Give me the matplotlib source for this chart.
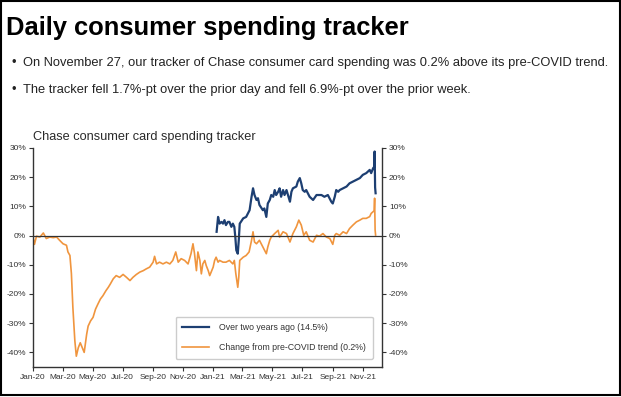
import pandas as pd
import matplotlib
matplotlib.use('Agg')
from matplotlib import pyplot as plt
import matplotlib.dates as mdates
from matplotlib.patches import Rectangle
from matplotlib.ticker import FuncFormatter

# change from pre-COVID trend, %
trend_dates = ['2020-01-01', '2020-01-04', '2020-01-08', '2020-01-15', '2020-01-22', '2020-01-28',
               '2020-02-04', '2020-02-11', '2020-02-18', '2020-02-24', '2020-03-02', '2020-03-09',
               '2020-03-12', '2020-03-16', '2020-03-19', '2020-03-22', '2020-03-26', '2020-03-29',
               '2020-04-02', '2020-04-06', '2020-04-10', '2020-04-14', '2020-04-19', '2020-04-22',
               '2020-04-27', '2020-05-02', '2020-05-07', '2020-05-12', '2020-05-17', '2020-05-22',
               '2020-05-28', '2020-06-02', '2020-06-06', '2020-06-12', '2020-06-18', '2020-06-25',
               '2020-07-02', '2020-07-09', '2020-07-16', '2020-07-22', '2020-07-29', '2020-08-05',
               '2020-08-12', '2020-08-18', '2020-08-25', '2020-09-01', '2020-09-04', '2020-09-08',
               '2020-09-14', '2020-09-21', '2020-09-28', '2020-10-05', '2020-10-11', '2020-10-17',
               '2020-10-22', '2020-10-28', '2020-11-04', '2020-11-11', '2020-11-17', '2020-11-21',
               '2020-11-24', '2020-11-28', '2020-12-01', '2020-12-05', '2020-12-08', '2020-12-11',
               '2020-12-15', '2020-12-18', '2020-12-22', '2020-12-25', '2021-01-01', '2021-01-04',
               '2021-01-07', '2021-01-11', '2021-01-14', '2021-01-21', '2021-01-27', '2021-02-03',
               '2021-02-10', '2021-02-13', '2021-02-16', '2021-02-20', '2021-02-22', '2021-02-24',
               '2021-03-03', '2021-03-09', '2021-03-15', '2021-03-20', '2021-03-23', '2021-03-26',
               '2021-03-30', '2021-04-05', '2021-04-12', '2021-04-19', '2021-04-22', '2021-04-26',
               '2021-04-29', '2021-05-06', '2021-05-13', '2021-05-16', '2021-05-23', '2021-05-30',
               '2021-06-06', '2021-06-12', '2021-06-19', '2021-06-24', '2021-06-29', '2021-07-04',
               '2021-07-09', '2021-07-16', '2021-07-23', '2021-07-30', '2021-08-05', '2021-08-12',
               '2021-08-19', '2021-08-26', '2021-09-01', '2021-09-05', '2021-09-08', '2021-09-15',
               '2021-09-22', '2021-09-29', '2021-10-05', '2021-10-12', '2021-10-19', '2021-10-26',
               '2021-11-01', '2021-11-08', '2021-11-15', '2021-11-18', '2021-11-22', '2021-11-24',
               '2021-11-25', '2021-11-26', '2021-11-27']
trend_vals = [-0.5, -3.0, -0.2, -0.5, 0.9, -1.0,
              -0.5, -0.7, -0.5, -1.6, -2.8, -3.3,
              -5.6, -6.8, -13.0, -24.6, -36.0, -41.3,
              -38.4, -36.7, -38.4, -40.0, -33.8, -31.0,
              -29.2, -28.0, -25.2, -23.4, -21.7, -20.6,
              -18.9, -17.7, -16.6, -14.8, -13.7, -14.3,
              -13.3, -14.3, -15.4, -14.3, -13.3, -12.5,
              -12.0, -11.4, -10.8, -9.1, -7.1, -9.7,
              -9.1, -9.7, -9.1, -9.7, -8.5, -5.6,
              -9.1, -7.9, -8.5, -9.7, -6.2, -2.8,
              -6.0, -12.0, -5.6, -8.5, -13.1, -9.7,
              -8.5, -10.3, -12.0, -13.7, -10.8, -8.5,
              -7.4, -9.1, -8.5, -9.1, -9.1, -8.5,
              -9.7, -8.5, -13.0, -17.7, -14.3, -8.5,
              -7.4, -6.8, -5.6, -1.6, 1.3, -2.2,
              -2.8, -1.6, -3.9, -6.2, -3.9, -1.6,
              -0.5, 0.7, 1.8, -0.5, 1.3, 0.7,
              -2.2, 0.7, 3.0, 5.3, 3.6, 0.1,
              1.3, -1.6, -2.2, 0.1, -0.2, 0.7,
              -0.5, -1.0, -3.0, 0.1, 0.7, 0.1,
              1.3, 0.7, 2.4, 3.6, 4.7, 5.3,
              5.9, 5.9, 6.5, 7.6, 8.2, 8.5,
              12.8, 1.9, 0.2]

# change over two years ago, %
two_year_dates = ['2021-01-08', '2021-01-11', '2021-01-14', '2021-01-18', '2021-01-21', '2021-01-24',
                  '2021-01-27', '2021-01-31', '2021-02-03', '2021-02-07', '2021-02-10', '2021-02-13',
                  '2021-02-15', '2021-02-17', '2021-02-20', '2021-02-22', '2021-02-24', '2021-03-03',
                  '2021-03-09', '2021-03-16', '2021-03-20', '2021-03-23', '2021-03-26', '2021-03-30',
                  '2021-04-02', '2021-04-05', '2021-04-12', '2021-04-15', '2021-04-19', '2021-04-22',
                  '2021-04-26', '2021-04-29', '2021-05-03', '2021-05-06', '2021-05-09', '2021-05-13',
                  '2021-05-16', '2021-05-19', '2021-05-23', '2021-05-26', '2021-05-30', '2021-06-02',
                  '2021-06-06', '2021-06-09', '2021-06-12', '2021-06-19', '2021-06-22', '2021-06-26',
                  '2021-06-29', '2021-07-02', '2021-07-06', '2021-07-09', '2021-07-16', '2021-07-23',
                  '2021-07-30', '2021-08-05', '2021-08-09', '2021-08-15', '2021-08-22', '2021-08-29',
                  '2021-09-01', '2021-09-05', '2021-09-08', '2021-09-12', '2021-09-15', '2021-09-22',
                  '2021-09-29', '2021-10-05', '2021-10-12', '2021-10-19', '2021-10-26', '2021-11-01',
                  '2021-11-08', '2021-11-15', '2021-11-18', '2021-11-22', '2021-11-24', '2021-11-25',
                  '2021-11-26', '2021-11-27']
two_year_vals = [1.3, 6.4, 4.1, 4.7, 4.1, 5.3,
                 3.6, 4.7, 4.7, 3.0, 4.1, 3.0,
                 -0.5, -5.0, -6.2, -1.6, 4.1, 5.9,
                 6.4, 8.7, 13.3, 16.2, 13.9, 12.2,
                 12.8, 10.5, 8.7, 9.3, 6.4, 11.0,
                 12.2, 13.9, 13.3, 15.6, 13.9, 15.0,
                 16.2, 13.3, 15.6, 13.9, 15.6, 13.9,
                 11.6, 15.0, 16.2, 16.8, 18.5, 19.7,
                 17.9, 15.6, 15.0, 15.6, 13.3, 12.2,
                 13.9, 13.9, 13.9, 13.3, 13.9, 11.6,
                 11.0, 13.3, 15.6, 15.0, 15.6, 16.2,
                 16.8, 17.9, 18.5, 19.1, 19.7, 20.8,
                 21.4, 22.5, 21.4, 23.1, 23.5, 28.8,
                 16.5, 14.5]

legend_labels = ['Over two years ago (14.5%)', 'Change from pre-COVID trend (0.2%)']
bullets = ['On November 27, our tracker of Chase consumer card spending was 0.2% above its pre-COVID trend.',
           'The tracker fell 1.7%-pt over the prior day and fell 6.9%-pt over the prior week.']

BLUE = '#1d3f72'
ORANGE = '#f0953e'
plt.rcParams['font.family'] = ['Liberation Sans', 'DejaVu Sans']

fig = plt.figure(figsize=(6.21, 3.97), dpi=100)
fig.text(6/621, 1-35/397, 'Daily consumer spending tracker', fontsize=18.4, fontweight='bold',
         color='black', va='baseline')
for i, b in enumerate(bullets):
    y = 1 - (66 + 27*i)/397
    fig.text(11/621, y, '\u2022', fontsize=9.3, va='baseline', color='#222222')
    fig.text(23/621, y, b, fontsize=9.3, va='baseline', color='#222222')

ax = fig.add_axes([33/621, 30/397, 349/621, 219/397])
ax.plot(pd.to_datetime(trend_dates), trend_vals, color=ORANGE, lw=1.2, label=legend_labels[1])
ax.plot(pd.to_datetime(two_year_dates), two_year_vals, color=BLUE, lw=1.6, label=legend_labels[0])
ax.axhline(0, color='#333333', lw=0.9)

ax.set_xlim(pd.Timestamp('2020-01-01'), pd.Timestamp('2021-12-10'))
ax.set_ylim(-45, 30)
ax.set_yticks(range(-40, 31, 10))
pct = FuncFormatter(lambda v, p: '%d%%' % v)
ax.yaxis.set_major_formatter(pct)
ax.xaxis.set_major_locator(mdates.MonthLocator(bymonth=[1, 3, 5, 7, 9, 11]))
ax.xaxis.set_major_formatter(mdates.DateFormatter('%b-%y'))
for s in ['top', 'right']:
    ax.spines[s].set_visible(False)
for s in ['left', 'bottom']:
    ax.spines[s].set_color('#333333')
    ax.spines[s].set_linewidth(1.0)
ax.tick_params(axis='both', labelsize=6, colors='#333333', length=3, width=0.8, pad=2)
ax.set_title('Chase consumer card spending tracker', loc='left', fontsize=9.2, color='#2a2a2a',
             pad=5.8)

ax2 = ax.twinx()
ax2.set_ylim(-45, 30)
ax2.set_yticks(range(-40, 31, 10))
ax2.yaxis.set_major_formatter(pct)
for s in ['top', 'left', 'bottom']:
    ax2.spines[s].set_visible(False)
ax2.spines['right'].set_color('#333333')
ax2.spines['right'].set_linewidth(1.0)
ax2.tick_params(axis='y', labelsize=6, colors='#333333', length=3, width=0.8, pad=2)

h, l = ax.get_legend_handles_labels()
leg = ax.legend(h[::-1], l[::-1], loc='lower right', bbox_to_anchor=(0.974, 0.0365),
                borderaxespad=0, fontsize=6.3, handlelength=3.1, handletextpad=1.15,
                labelspacing=1.3, borderpad=0.75, edgecolor='#cccccc', framealpha=1)
for t in leg.get_texts():
    t.set_color('#333333')

fig.add_artist(Rectangle((0.5/621, 2/397), 619.5/621, 394.5/397, transform=fig.transFigure,
                         fill=False, ec='black', lw=1.5))

fig.savefig('out.png', dpi=100)
